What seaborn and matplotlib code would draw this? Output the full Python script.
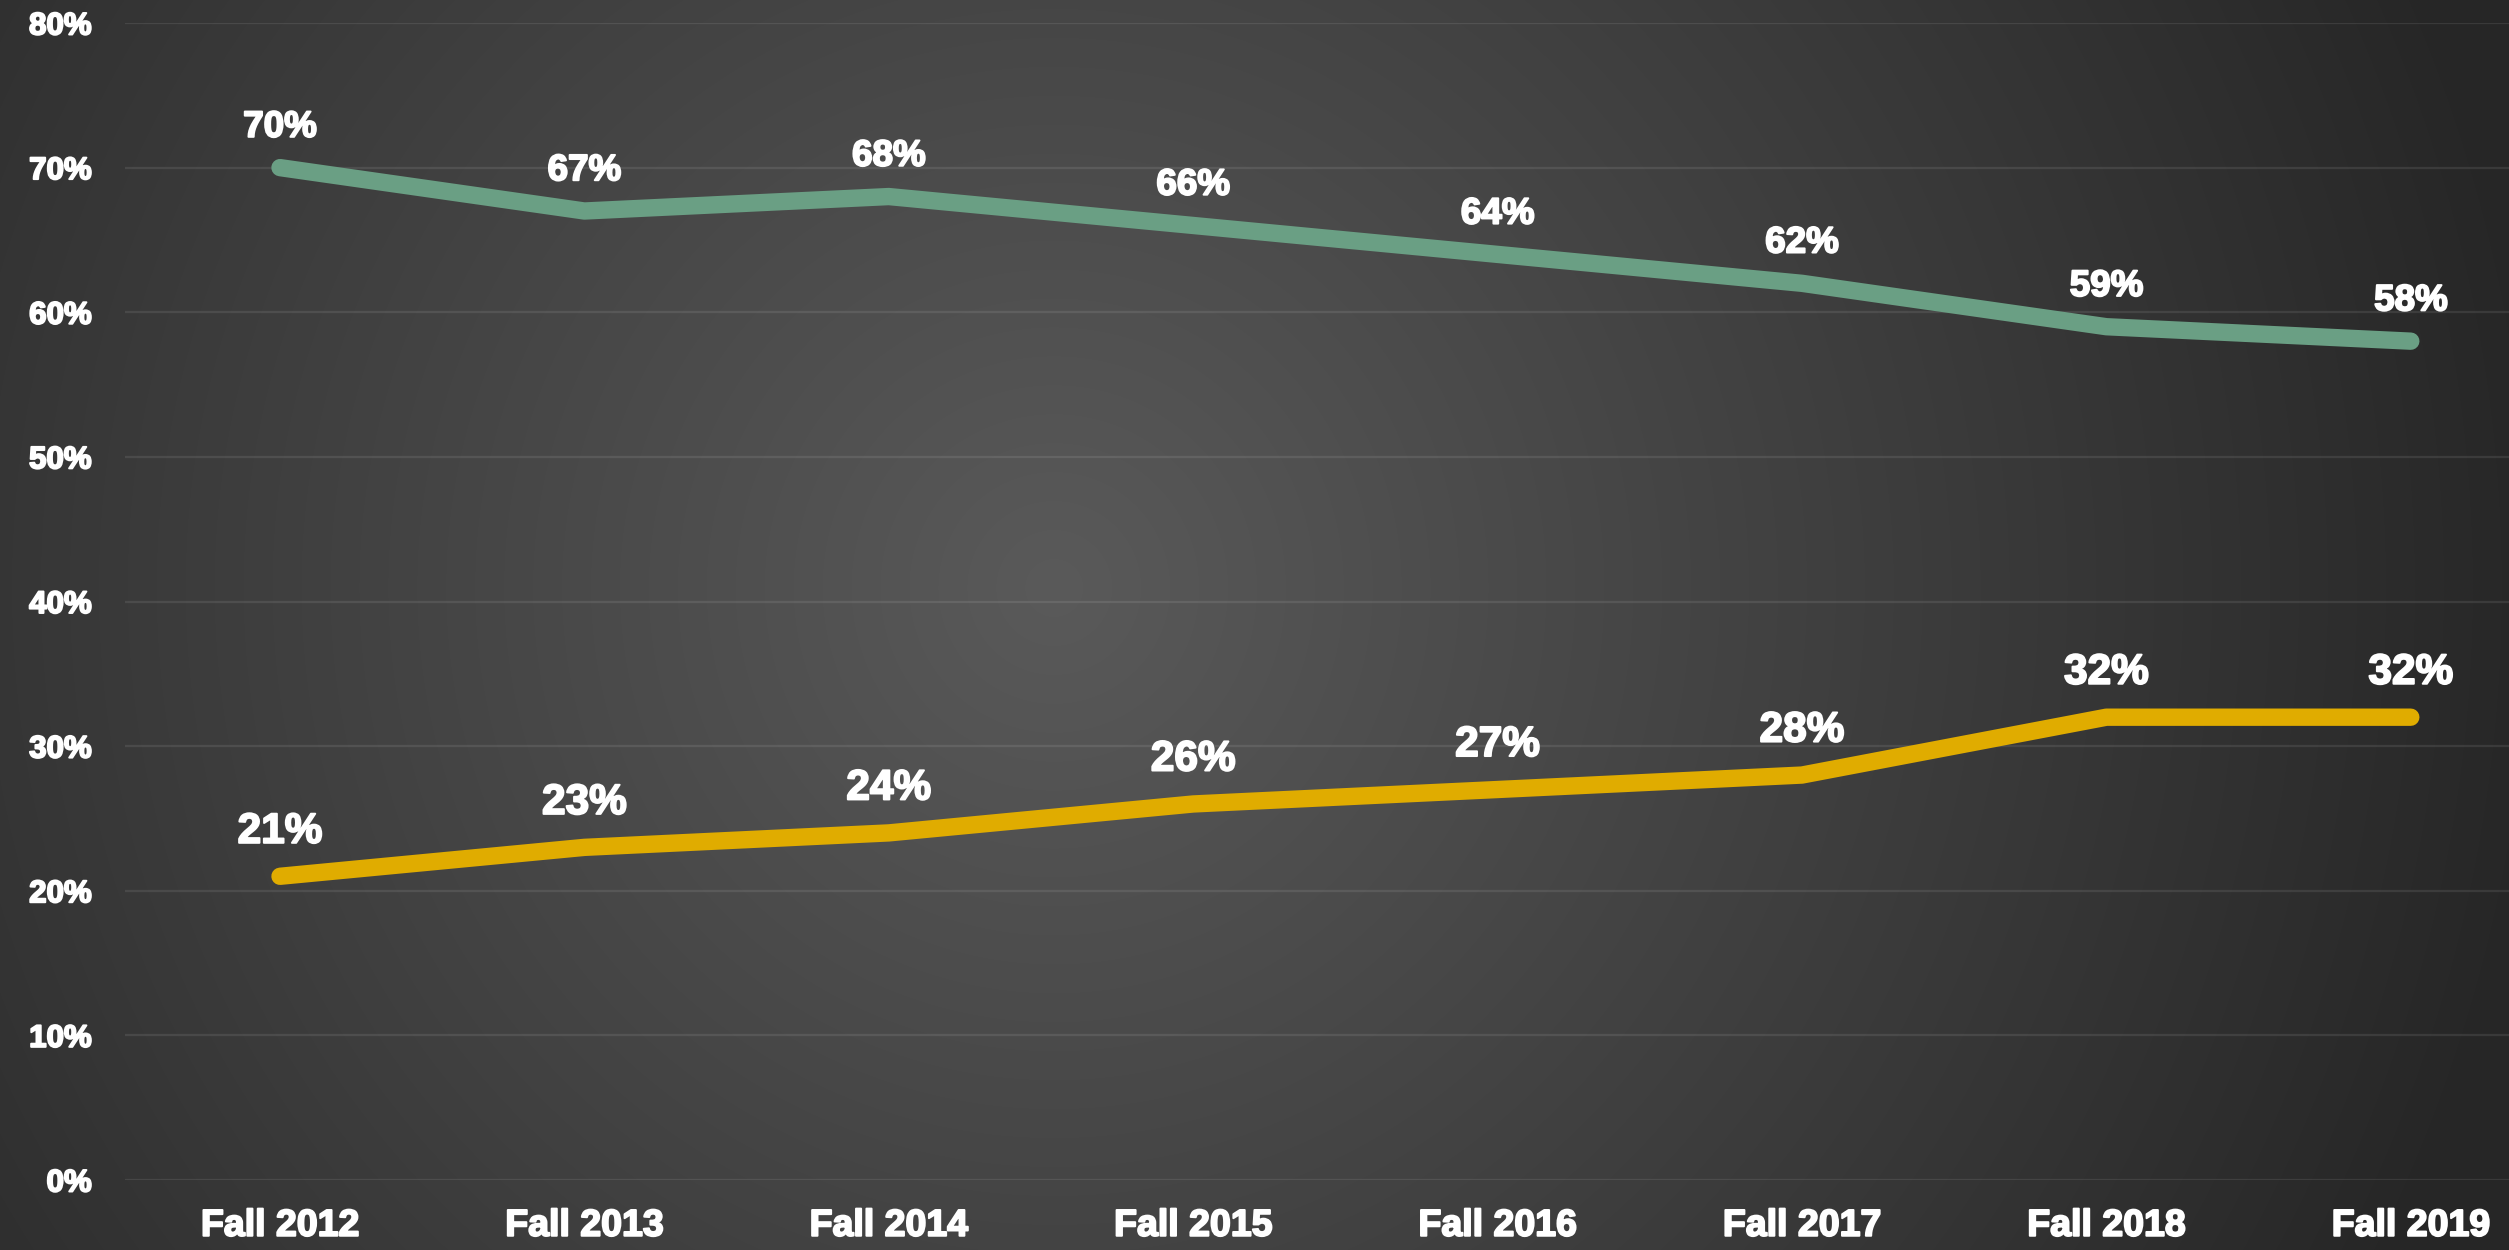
import numpy as np
import pandas as pd
import matplotlib
matplotlib.use("Agg")
import matplotlib.pyplot as plt
import matplotlib.patheffects as pe
import seaborn as sns

terms = ["Fall 2012", "Fall 2013", "Fall 2014", "Fall 2015",
         "Fall 2016", "Fall 2017", "Fall 2018", "Fall 2019"]
series_a = [70, 67, 68, 66, 64, 62, 59, 58]
series_b = [21, 23, 24, 26, 27, 28, 32, 32]
y_ticks = [0, 10, 20, 30, 40, 50, 60, 70, 80]

color_a = "#6a9f84"
color_b = "#e0ac00"

sns.set_theme(style="dark")
plt.rcParams["font.family"] = ["Liberation Sans", "DejaVu Sans"]

df = pd.DataFrame({
    "term": terms * 2,
    "x": list(range(len(terms))) * 2,
    "value": series_a + series_b,
    "series": ["A"] * len(terms) + ["B"] * len(terms),
})

W, H = 2509, 1250
fig = plt.figure(figsize=(W / 100, H / 100), dpi=100)

# radial gradient background
bg = fig.add_axes([0, 0, 1, 1], zorder=0)
yy, xx = np.mgrid[0:H, 0:W]
cx, cy = 0.42 * W, 0.47 * H
d = np.sqrt(((xx - cx) / (0.60 * W)) ** 2 + ((yy - cy) / (0.60 * W)) ** 2)
d = np.clip(d, 0, 1)
c_in, c_out = 0x5a / 255, 0x26 / 255
img = c_in + (c_out - c_in) * d
bg.imshow(np.dstack([img, img, img]), aspect="auto", extent=[0, 1, 0, 1], origin="upper")
bg.axis("off")

left = 125 / W
right = 1.0
y0 = 1180
y80 = 23
bottom = (H - y0) / H
top = (H - y80) / H
ax = fig.add_axes([left, bottom, right - left, top - bottom], zorder=1)
ax.set_facecolor("none")

sns.lineplot(data=df, x="x", y="value", hue="series",
             palette={"A": color_a, "B": color_b},
             linewidth=12.5, ax=ax, legend=False, sort=False)
for ln in ax.lines:
    ln.set_solid_capstyle("round")
    ln.set_solid_joinstyle("round")

x_first, x_step = 280, 304.4
x_lo = (125 - x_first) / x_step
x_hi = (W - x_first) / x_step
ax.set_xlim(x_lo, x_hi)
ax.set_ylim(0, 80)

heavy = [pe.withStroke(linewidth=1.4, foreground="white")]

ax.set_yticks(y_ticks)
ax.set_yticklabels([f"{t}%" for t in y_ticks])
ax.set_xticks(range(len(terms)))
ax.set_xticklabels(terms)
ax.tick_params(axis="y", colors="white", labelsize=22.5, length=0, pad=24)
ax.tick_params(axis="x", colors="white", labelsize=27, length=0, pad=20)
for lab in ax.get_yticklabels() + ax.get_xticklabels():
    lab.set_fontweight("bold")
    lab.set_color("white")
    lab.set_path_effects(heavy)

ax.grid(axis="y", color="white", alpha=0.09, linewidth=1.6)
ax.grid(axis="x", visible=False)
for s in ax.spines.values():
    s.set_visible(False)
ax.set_xlabel("")
ax.set_ylabel("")

for i, v in enumerate(series_a):
    ax.annotate(f"{v}%", (i, v), xytext=(0, 29), textcoords="offset points",
                ha="center", va="center", color="white", fontsize=26.5,
                fontweight="bold", path_effects=heavy)
for i, v in enumerate(series_b):
    ax.annotate(f"{v}%", (i, v), xytext=(0, 32), textcoords="offset points",
                ha="center", va="center", color="white", fontsize=30.5,
                fontweight="bold", path_effects=heavy)

fig.savefig("out.png", dpi=100)
